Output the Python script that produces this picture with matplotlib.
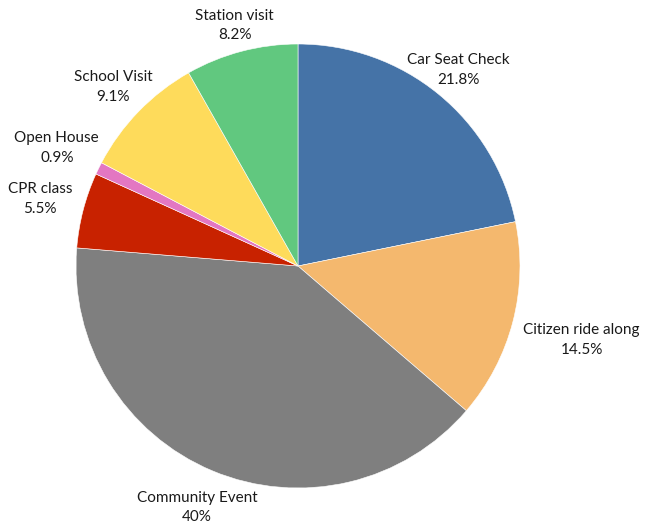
import numpy as np
import matplotlib
matplotlib.use("Agg")
import matplotlib.pyplot as plt

categories = ["Car Seat Check", "Citizen ride along", "Community Event", "CPR class",
              "Open House", "School Visit", "Station visit"]
values = [21.8, 14.5, 40.0, 5.5, 0.9, 9.1, 8.2]
pct_labels = ["21.8%", "14.5%", "40%", "5.5%", "0.9%", "9.1%", "8.2%"]
colors = ["#4573a7", "#f4b86e", "#7f7f7f", "#c82200", "#e377c2", "#fedb5b", "#61c87f"]
label_dist = [1.14, 1.32, 1.18, 1.20, 1.21, 1.16, 1.12]

plt.rcParams['font.family'] = ['Lato', 'DejaVu Sans']

fig = plt.figure(figsize=(6.6, 5.31), dpi=100)
ax = fig.add_axes([0, 0, 1, 1])
wedges, _ = ax.pie(values, colors=colors, startangle=90, counterclock=False,
                   radius=1.0, wedgeprops=dict(edgecolor='white', linewidth=0.4))

for w, cat, pl, d in zip(wedges, categories, pct_labels, label_dist):
    ang = np.deg2rad((w.theta1 + w.theta2) / 2)
    ax.text(d * np.cos(ang), d * np.sin(ang), f"{cat}\n{pl}", ha='center', va='center',
            fontsize=11, color='#1a1a1a', linespacing=1.5)

sc = 222.0
ax.set_aspect('auto')
ax.set_xlim(-298 / sc, (660 - 298) / sc)
ax.set_ylim(-265 / sc, 266 / sc)
ax.axis('off')
fig.savefig("out.png", dpi=100)
